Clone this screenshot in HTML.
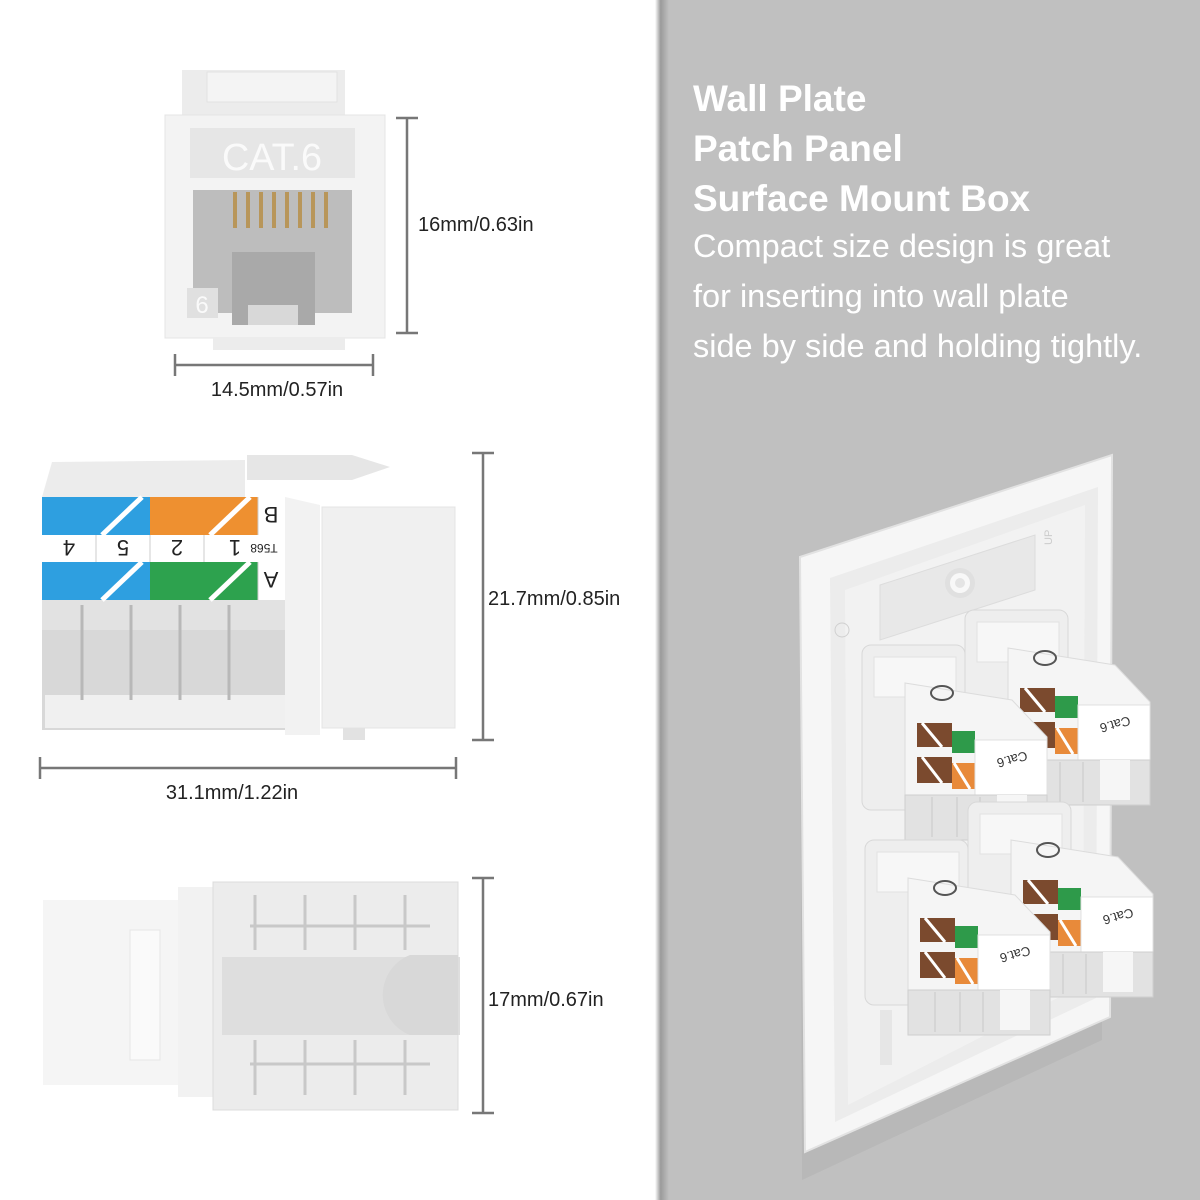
<!DOCTYPE html>
<html><head><meta charset="utf-8"><style>
html,body{margin:0;padding:0;background:#fff;}
svg{display:block}
</style></head><body>
<svg width="1200" height="1200" viewBox="0 0 1200 1200" xmlns="http://www.w3.org/2000/svg" font-family="Liberation Sans, sans-serif">
<defs>
<linearGradient id="edge" x1="0" x2="1" y1="0" y2="0">
<stop offset="0" stop-color="#ffffff"/><stop offset="0.4" stop-color="#9a9a9a"/><stop offset="1" stop-color="#c0c0c0"/>
</linearGradient>
<g id="jack">
 <rect x="0" y="0" width="103" height="165" rx="9" fill="#eeeeee" stroke="#d8d8d8"/>
 <rect x="12" y="12" width="82" height="40" fill="#f7f7f7" stroke="#e2e2e2"/>
 <polygon points="43,38 150,55 185,92 185,150 43,150" fill="#f5f5f5" stroke="#dcdcdc"/>
 <rect x="55" y="78" width="35" height="24" fill="#7b4a2e"/>
 <rect x="90" y="86" width="23" height="22" fill="#2e9a4a"/>
 <rect x="55" y="112" width="35" height="26" fill="#7b4a2e"/>
 <rect x="90" y="118" width="23" height="26" fill="#e88a3a"/>
 <line x1="60" y1="78" x2="80" y2="102" stroke="#fff" stroke-width="3"/>
 <line x1="60" y1="112" x2="80" y2="138" stroke="#fff" stroke-width="3"/>
 <line x1="92" y1="118" x2="108" y2="144" stroke="#fff" stroke-width="3"/>
 <rect x="113" y="95" width="72" height="55" fill="#ffffff" stroke="#e0e0e0"/>
 <text x="150" y="118" font-size="13" fill="#333" text-anchor="middle" transform="rotate(165 150 114)">Cat.6</text>
 <rect x="43" y="150" width="142" height="45" fill="#e2e2e2" stroke="#cfcfcf"/>
 <rect x="135" y="150" width="30" height="40" fill="#f6f6f6"/>
 <line x1="70" y1="152" x2="70" y2="192" stroke="#c8c8c8"/>
 <line x1="95" y1="152" x2="95" y2="192" stroke="#c8c8c8"/>
 <line x1="118" y1="152" x2="118" y2="192" stroke="#c8c8c8"/>
 <ellipse cx="80" cy="48" rx="11" ry="7" fill="none" stroke="#555" stroke-width="2"/>
</g>
</defs>

<rect x="660" y="0" width="540" height="1200" fill="#c0c0c0"/>
<rect x="655" y="0" width="14" height="1200" fill="url(#edge)"/>

<text font-size="37" font-weight="bold" fill="#fff">
 <tspan x="693" y="111">Wall Plate</tspan>
 <tspan x="693" y="161">Patch Panel</tspan>
 <tspan x="693" y="211">Surface Mount Box</tspan>
</text>
<text font-size="32.5" fill="#fff">
 <tspan x="693" y="257">Compact size design is great</tspan>
 <tspan x="693" y="307">for inserting into wall plate</tspan>
 <tspan x="693" y="357">side by side and holding tightly.</tspan>
</text>

<polygon points="810,560 1112,455 1112,1020 812,1160" fill="#b0b0b0" opacity="0.5" transform="translate(-10,20)"/>
<polygon points="800,557 1112,455 1110,1017 805,1152" fill="#f6f6f6" stroke="#e2e2e2" stroke-width="2"/>
<polygon points="830,578 1098,487 1096,998 835,1122" fill="#ececec"/>
<polygon points="845,590 1085,505 1083,985 848,1105" fill="#f2f2f2"/>
<polygon points="880,585 1035,535 1035,590 880,640" fill="#e8e8e8" stroke="#dcdcdc"/>
<circle cx="960" cy="583" r="15" fill="#e0e0e0"/><circle cx="960" cy="583" r="10" fill="#f8f8f8"/><circle cx="960" cy="583" r="5" fill="#e4e4e4"/>
<text x="1052" y="545" font-size="11" fill="#ccc" transform="rotate(-90 1052 545)">UP</text>
<circle cx="842" cy="630" r="7" fill="none" stroke="#d0d0d0"/>
<rect x="880" y="1010" width="12" height="55" fill="#e6e6e6"/>

<use href="#jack" x="965" y="610"/>
<use href="#jack" x="862" y="645"/>
<use href="#jack" x="968" y="802"/>
<use href="#jack" x="865" y="840"/>

<rect x="182" y="70" width="163" height="45" fill="#ececec"/>
<rect x="207" y="72" width="130" height="30" fill="#f4f4f4" stroke="#e2e2e2"/>
<rect x="165" y="115" width="220" height="223" fill="#f3f3f3" stroke="#e4e4e4"/>
<rect x="213" y="338" width="132" height="12" fill="#ececec"/>
<rect x="190" y="128" width="165" height="50" fill="#e6e6e6"/>
<text x="272" y="170" font-size="38" fill="#fafafa" text-anchor="middle" textLength="100" lengthAdjust="spacingAndGlyphs">CAT.6</text>
<rect x="193" y="190" width="159" height="123" fill="#bdbdbd"/>
<rect x="232" y="252" width="83" height="73" fill="#a9a9a9"/>
<rect x="248" y="305" width="50" height="20" fill="#d8d8d8"/>
<g fill="#b8965a">
<rect x="233" y="192" width="4" height="36"/><rect x="246" y="192" width="4" height="36"/><rect x="259" y="192" width="4" height="36"/><rect x="272" y="192" width="4" height="36"/>
<rect x="285" y="192" width="4" height="36"/><rect x="298" y="192" width="4" height="36"/><rect x="311" y="192" width="4" height="36"/><rect x="324" y="192" width="4" height="36"/>
</g>
<rect x="187" y="288" width="31" height="30" fill="#e0e0e0"/>
<text x="202" y="313" font-size="24" fill="#fafafa" text-anchor="middle">6</text>

<g stroke="#777" stroke-width="2.5">
<line x1="407" y1="118" x2="407" y2="333"/><line x1="396" y1="118" x2="418" y2="118"/><line x1="396" y1="333" x2="418" y2="333"/>
<line x1="175" y1="365" x2="373" y2="365"/><line x1="175" y1="354" x2="175" y2="376"/><line x1="373" y1="354" x2="373" y2="376"/>
</g>
<text x="418" y="231" font-size="20" fill="#222">16mm/0.63in</text>
<text x="277" y="396" font-size="20" fill="#222" text-anchor="middle">14.5mm/0.57in</text>

<polygon points="52,462 245,460 245,497 42,497" fill="#ececec"/>
<polygon points="247,455 352,455 390,467 352,480 247,480" fill="#e6e6e6"/>
<polygon points="285,497 320,505 320,735 285,735" fill="#f2f2f2"/>
<rect x="322" y="507" width="133" height="221" fill="#f0f0f0" stroke="#e4e4e4"/>
<rect x="343" y="728" width="22" height="12" fill="#e2e2e2"/>
<rect x="42" y="600" width="243" height="130" fill="#d8d8d8"/>
<rect x="42" y="600" width="243" height="30" fill="#e2e2e2"/>
<rect x="45" y="695" width="240" height="33" fill="#f0f0f0"/>
<g stroke="#b8b8b8" stroke-width="3"><line x1="82" y1="605" x2="82" y2="700"/><line x1="131" y1="605" x2="131" y2="700"/><line x1="180" y1="605" x2="180" y2="700"/><line x1="229" y1="605" x2="229" y2="700"/></g>
<rect x="42" y="497" width="243" height="103" fill="#fff"/>
<rect x="42" y="497" width="54" height="38" fill="#2e9fe0"/>
<rect x="96" y="497" width="54" height="38" fill="#2e9fe0"/>
<rect x="150" y="497" width="54" height="38" fill="#ee9030"/>
<rect x="204" y="497" width="54" height="38" fill="#ee9030"/>
<rect x="42" y="562" width="54" height="38" fill="#2e9fe0"/>
<rect x="96" y="562" width="54" height="38" fill="#2e9fe0"/>
<rect x="150" y="562" width="54" height="38" fill="#2da24e"/>
<rect x="204" y="562" width="54" height="38" fill="#2da24e"/>
<g stroke="#fff" stroke-width="5">
<line x1="102" y1="535" x2="142" y2="497"/><line x1="210" y1="535" x2="250" y2="497"/>
<line x1="102" y1="600" x2="142" y2="562"/><line x1="210" y1="600" x2="250" y2="562"/>
</g>
<g stroke="#ccc" stroke-width="1"><line x1="96" y1="535" x2="96" y2="562"/><line x1="150" y1="535" x2="150" y2="562"/><line x1="204" y1="535" x2="204" y2="562"/><line x1="258" y1="497" x2="258" y2="535"/><line x1="258" y1="562" x2="258" y2="600"/></g>
<g font-size="22" fill="#222" text-anchor="middle">
<text transform="translate(69,540) rotate(180)">4</text>
<text transform="translate(123,540) rotate(180)">5</text>
<text transform="translate(177,540) rotate(180)">2</text>
<text transform="translate(235,540) rotate(180)">1</text>
<text transform="translate(271,507) rotate(180)">B</text>
<text transform="translate(271,572) rotate(180)">A</text>
</g>
<text transform="translate(264,544) rotate(180)" font-size="12" fill="#222" text-anchor="middle">T568</text>

<g stroke="#777" stroke-width="2.5">
<line x1="483" y1="453" x2="483" y2="740"/><line x1="472" y1="453" x2="494" y2="453"/><line x1="472" y1="740" x2="494" y2="740"/>
<line x1="40" y1="768" x2="456" y2="768"/><line x1="40" y1="757" x2="40" y2="779"/><line x1="456" y1="757" x2="456" y2="779"/>
</g>
<text x="488" y="605" font-size="20" fill="#222">21.7mm/0.85in</text>
<text x="232" y="799" font-size="20" fill="#222" text-anchor="middle">31.1mm/1.22in</text>

<rect x="43" y="900" width="137" height="185" fill="#f5f5f5"/>
<rect x="178" y="887" width="35" height="210" fill="#f2f2f2"/>
<rect x="130" y="930" width="30" height="130" fill="#fafafa" stroke="#e6e6e6"/>
<rect x="213" y="882" width="245" height="228" fill="#ececec" stroke="#dcdcdc"/>
<rect x="222" y="957" width="238" height="78" fill="#dedede"/>
<path d="M458,955 L410,955 A43,43 0 0 0 410,1035 L458,1035 Z" fill="#d8d8d8"/>
<g stroke="#c8c8c8" stroke-width="3">
<line x1="255" y1="895" x2="255" y2="950"/><line x1="305" y1="895" x2="305" y2="950"/><line x1="355" y1="895" x2="355" y2="950"/><line x1="405" y1="895" x2="405" y2="950"/>
<line x1="255" y1="1040" x2="255" y2="1095"/><line x1="305" y1="1040" x2="305" y2="1095"/><line x1="355" y1="1040" x2="355" y2="1095"/><line x1="405" y1="1040" x2="405" y2="1095"/>
<line x1="250" y1="926" x2="430" y2="926"/><line x1="250" y1="1064" x2="430" y2="1064"/>
</g>
<g stroke="#777" stroke-width="2.5">
<line x1="483" y1="878" x2="483" y2="1113"/><line x1="472" y1="878" x2="494" y2="878"/><line x1="472" y1="1113" x2="494" y2="1113"/>
</g>
<text x="488" y="1006" font-size="20" fill="#222">17mm/0.67in</text>
</svg>
</body></html>
